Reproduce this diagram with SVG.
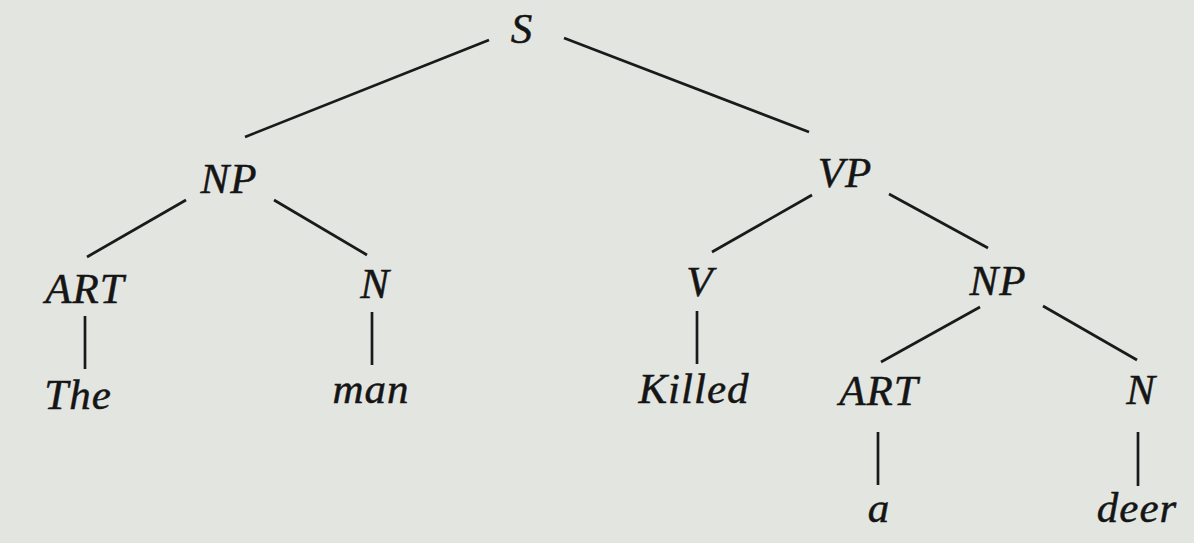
<svg xmlns="http://www.w3.org/2000/svg" width="1194" height="543" viewBox="0 0 1194 543">
<style>
.bg{fill:#e3e5e1}
.lbl{font-family:"Liberation Serif","Times New Roman",serif;font-style:italic;font-size:43px;fill:#151515;stroke:#151515;stroke-width:0.5;text-anchor:middle;letter-spacing:1px}
.edge{stroke:#1a1a1a;stroke-width:2.7;stroke-linecap:butt;fill:none}
</style>
<rect class="bg" x="0" y="0" width="1194" height="543"/>
<g id="connectors">
<line class="edge" x1="489" y1="40" x2="245" y2="137"/>
<line class="edge" x1="564" y1="38" x2="809" y2="132"/>
<line class="edge" x1="186" y1="200" x2="87" y2="257"/>
<line class="edge" x1="274" y1="200" x2="367" y2="255"/>
<line class="edge" x1="812" y1="195" x2="712" y2="252"/>
<line class="edge" x1="889" y1="194" x2="988" y2="248"/>
<line class="edge" x1="85" y1="316" x2="85" y2="369"/>
<line class="edge" x1="372" y1="312" x2="372" y2="365"/>
<line class="edge" x1="697" y1="311" x2="697" y2="364"/>
<line class="edge" x1="980" y1="307" x2="881" y2="362"/>
<line class="edge" x1="1043" y1="306" x2="1137" y2="360"/>
<line class="edge" x1="878" y1="432" x2="878" y2="485"/>
<line class="edge" x1="1138" y1="432" x2="1138" y2="486"/>
</g>
<g id="node-S"><text class="lbl" x="522" y="43">S</text></g>
<g id="node-NP1"><text class="lbl" x="229" y="193">NP</text></g>
<g id="node-VP"><text class="lbl" x="845" y="187">VP</text></g>
<g id="node-ART1"><text class="lbl" x="85" y="303">ART</text></g>
<g id="node-N1"><text class="lbl" x="375" y="298">N</text></g>
<g id="node-V"><text class="lbl" x="700" y="296">V</text></g>
<g id="node-NP2"><text class="lbl" x="998" y="295">NP</text></g>
<g id="node-The"><text class="lbl" x="78" y="409">The</text></g>
<g id="node-man"><text class="lbl" x="371" y="403">man</text></g>
<g id="node-Killed"><text class="lbl" x="694" y="403">Killed</text></g>
<g id="node-ART2"><text class="lbl" x="879" y="405">ART</text></g>
<g id="node-N2"><text class="lbl" x="1141" y="404">N</text></g>
<g id="node-a"><text class="lbl" x="879" y="522">a</text></g>
<g id="node-deer"><text class="lbl" x="1137" y="522">deer</text></g>
</svg>
